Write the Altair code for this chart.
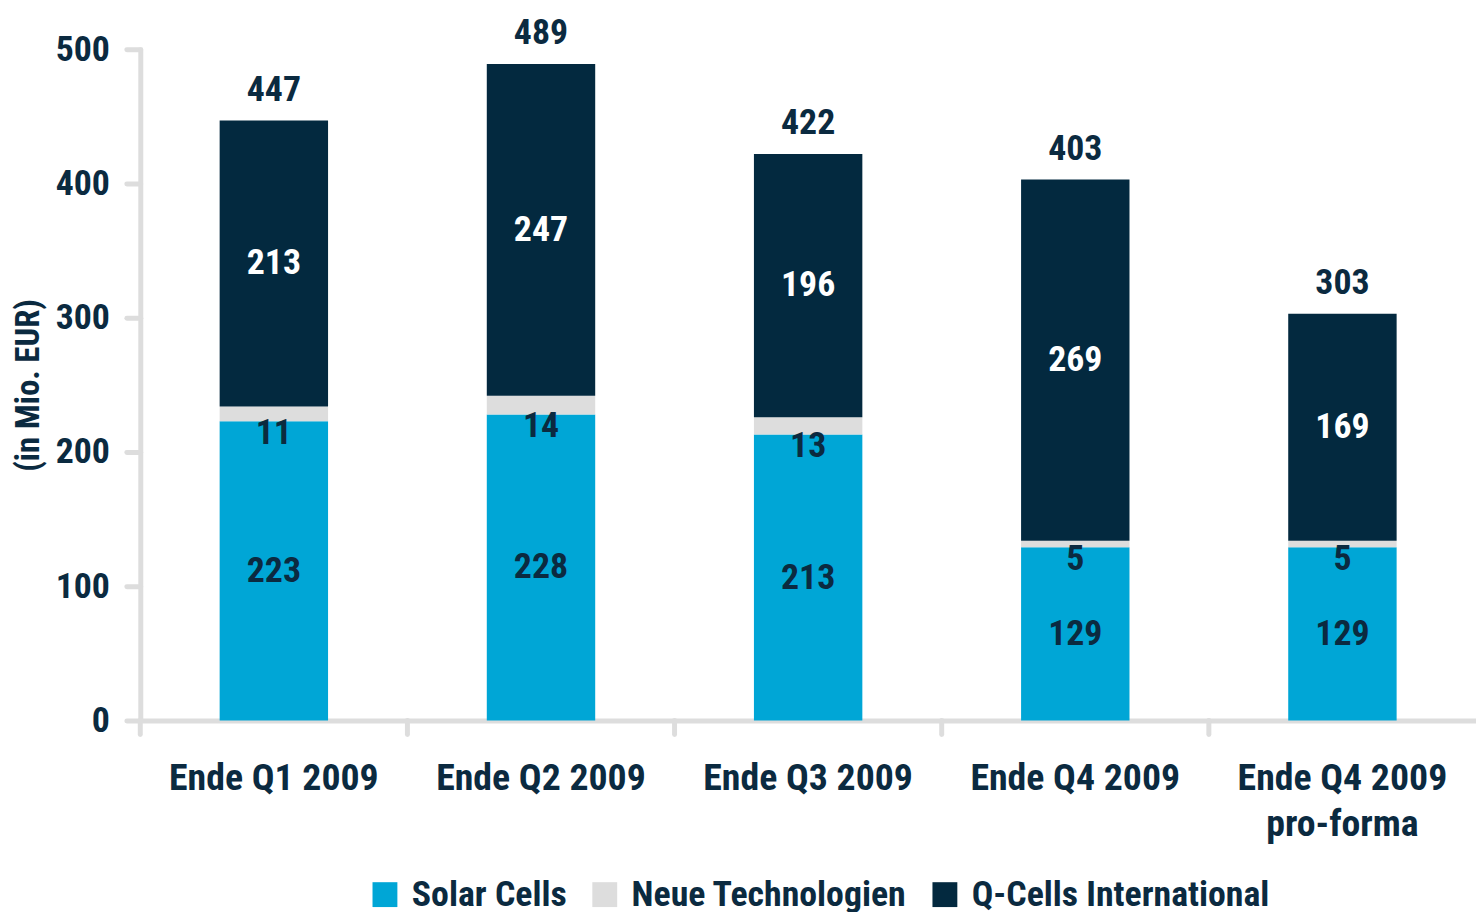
import altair as alt
import pandas as pd

categories = ["Ende Q1 2009", "Ende Q2 2009", "Ende Q3 2009", "Ende Q4 2009", "Ende Q4 2009|pro-forma"]
solar_cells = [223, 228, 213, 129, 129]
neue_tech = [11, 14, 13, 5, 5]
qcells_intl = [213, 247, 196, 269, 169]
totals = [447, 489, 422, 403, 303]
series = ["Solar Cells", "Neue Technologien", "Q-Cells International"]
colors = ["#00A6D6", "#DDDDDD", "#03293F"]

FONT = "Roboto Condensed"
TXT = "#0B2A40"
GRAY = "#DDDDDD"

rows = []
for i, c in enumerate(categories):
    s, n, q = solar_cells[i], neue_tech[i], qcells_intl[i]
    rows.append({"cat": c, "series": series[0], "start": 0, "end": s})
    rows.append({"cat": c, "series": series[1], "start": s, "end": s + n})
    rows.append({"cat": c, "series": series[2], "start": s + n, "end": s + n + q})
bars_df = pd.DataFrame(rows)

lab = pd.DataFrame({
    "cat": categories,
    "solar": solar_cells,
    "neue": neue_tech,
    "intl": qcells_intl,
    "total": totals,
})
lab["solar_mid"] = lab["solar"] / 2
lab["intl_mid"] = lab["solar"] + lab["neue"] + lab["intl"] / 2
lab["neue_top"] = lab["solar"]

x_scale = alt.Scale(domain=categories, paddingInner=0, paddingOuter=0)
y_scale = alt.Scale(domain=[0, 500])

x_axis = alt.Axis(
    title=None, labelAngle=0, ticks=False, domainColor=GRAY, domainWidth=5,
    labelExpr="split(datum.label, '|')", labelFont=FONT, labelFontSize=38,
    labelFontWeight="bold", labelColor=TXT, labelPadding=39, labelLineHeight=47,
    labelLimit=400,
)
y_axis = alt.Axis(
    values=[0, 100, 200, 300, 400, 500], grid=False, tickSize=14, tickWidth=5,
    tickColor=GRAY, tickCap="round", domainColor=GRAY, domainWidth=5, domainCap="round",
    labelFont=FONT, labelFontSize=36, labelFontWeight="bold", labelColor=TXT,
    labelPadding=17, title="(in Mio. EUR)", titleFont=FONT, titleFontSize=33,
    titleFontWeight="bold", titleColor=TXT, titlePadding=10,
)

X = alt.X("cat:N", scale=x_scale, sort=categories, axis=x_axis)

bars = alt.Chart(bars_df).mark_bar(size=109).encode(
    x=X,
    y=alt.Y("start:Q", scale=y_scale, axis=y_axis),
    y2="end:Q",
    color=alt.Color(
        "series:N",
        scale=alt.Scale(domain=series, range=colors),
        legend=alt.Legend(
            title=None, orient="none", legendX=228, legendY=832, direction="horizontal",
            symbolType="square", symbolSize=625, symbolStrokeWidth=0, labelFont=FONT,
            labelFontSize=36, labelFontWeight="bold", labelColor=TXT, columnPadding=20,
            labelOffset=9, labelLimit=400,
        ),
    ),
)

ticks = alt.Chart(pd.DataFrame({"cat": categories})).mark_rule(
    color=GRAY, strokeWidth=5, strokeCap="round"
).encode(
    x=alt.X("cat:N", scale=x_scale, sort=categories, bandPosition=0),
    y=alt.value(675),
    y2=alt.value(689),
)

base = alt.Chart(lab)
txt_kw = dict(font=FONT, fontSize=36, fontWeight="bold")

total_txt = base.mark_text(baseline="alphabetic", dy=-20, color=TXT, **txt_kw).encode(
    x=alt.X("cat:N", scale=x_scale, sort=categories), y=alt.Y("total:Q", scale=y_scale), text="total:Q")
intl_txt = base.mark_text(baseline="middle", color="white", **txt_kw).encode(
    x=alt.X("cat:N", scale=x_scale, sort=categories), y=alt.Y("intl_mid:Q", scale=y_scale), text="intl:Q")
solar_txt = base.mark_text(baseline="middle", color=TXT, **txt_kw).encode(
    x=alt.X("cat:N", scale=x_scale, sort=categories), y=alt.Y("solar_mid:Q", scale=y_scale), text="solar:Q")
neue_txt = base.mark_text(baseline="alphabetic", dy=23, color=TXT, **txt_kw).encode(
    x=alt.X("cat:N", scale=x_scale, sort=categories), y=alt.Y("neue_top:Q", scale=y_scale), text="neue:Q")

chart = alt.layer(bars, ticks, total_txt, intl_txt, solar_txt, neue_txt).properties(
    width=1343, height=675,
    autosize=alt.AutoSizeParams(type="none"),
    padding={"left": 133, "top": 39, "right": 0, "bottom": 190},
).configure_view(stroke=None)

chart.save("out.html", embed_options={"renderer": "svg", "actions": False})
